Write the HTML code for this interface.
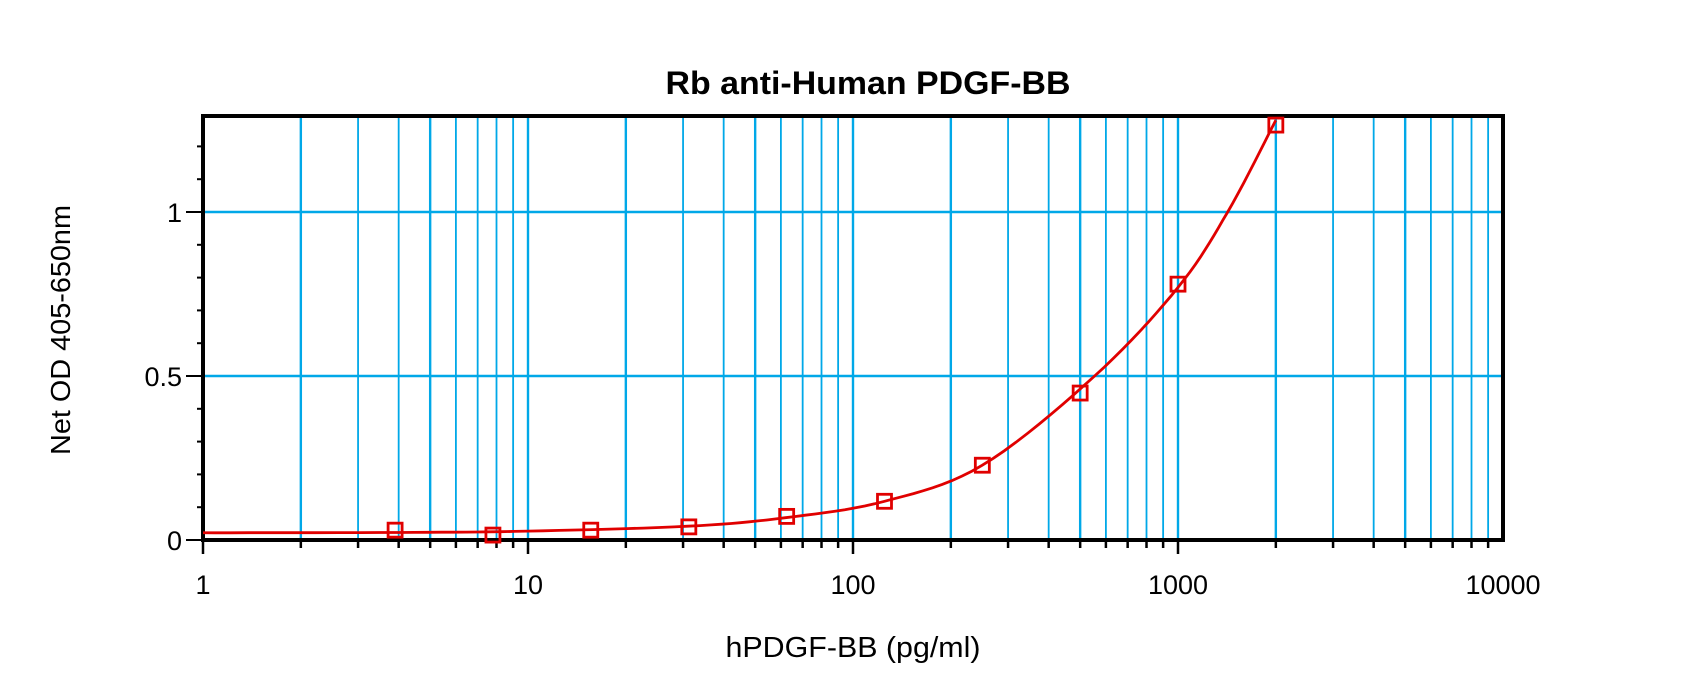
<!DOCTYPE html>
<html><head><meta charset="utf-8"><style>
html,body{margin:0;padding:0;background:#fff;width:1700px;height:686px;overflow:hidden}
</style></head><body>
<svg id="s" width="1700" height="686" xmlns="http://www.w3.org/2000/svg" font-family="Liberation Sans, Arial, sans-serif">
<g id="grid"></g>
<g id="frame"></g>
<text x="868" y="94" text-anchor="middle" font-size="32" font-weight="bold" textLength="405" lengthAdjust="spacingAndGlyphs">Rb anti-Human PDGF-BB</text>
<text x="853" y="657" text-anchor="middle" font-size="29" textLength="255" lengthAdjust="spacingAndGlyphs">hPDGF-BB (pg/ml)</text>
<text transform="translate(70,330) rotate(-90)" text-anchor="middle" font-size="28" textLength="250" lengthAdjust="spacingAndGlyphs">Net OD 405-650nm</text>
<g font-size="27" text-anchor="end">
<text x="182" y="550">0</text>
<text x="182" y="386">0.5</text>
<text x="182" y="222">1</text>
</g>
<g font-size="27" text-anchor="middle">
<text x="203" y="594">1</text>
<text x="528" y="594">10</text>
<text x="853" y="594">100</text>
<text x="1178" y="594">1000</text>
<text x="1503" y="594">10000</text>
</g>
<g id="data"></g>
</svg>
<script>
var NS="http://www.w3.org/2000/svg";
var L=203,R=1503,T=116,B=540,D=325;
function X(v){return L+Math.log10(v)*D}
function Y(v){return B-v*328}
function el(p,t,a){var e=document.createElementNS(NS,t);for(var k in a)e.setAttribute(k,a[k]);p.appendChild(e);return e}
var g=document.getElementById('grid'),f=document.getElementById('frame'),d=document.getElementById('data');
for(var e=0;e<4;e++)for(var m=1;m<=9;m++){var v=m*Math.pow(10,e);if(v<=1)continue;var x=X(v);
 el(g,'line',{x1:x,x2:x,y1:T,y2:B,stroke:'#00a8e8','stroke-width':(m==1||m==2||m==5)?2.4:1.8});
 el(f,'line',{x1:x,x2:x,y1:B,y2:B+(m==1?14:8),stroke:'#000','stroke-width':2.5});}
[0.5,1].forEach(function(v){el(g,'line',{x1:L,x2:R,y1:Y(v),y2:Y(v),stroke:'#00a8e8','stroke-width':2.4})});
el(f,'line',{x1:L,x2:L,y1:B,y2:B+14,stroke:'#000','stroke-width':2.5});
for(var i=0;i<=12;i++){var v=i*0.1;var y=Y(v);var maj=(i%5==0);
 el(f,'line',{x1:L-(maj?17:6),x2:L,y1:y,y2:y,stroke:'#000','stroke-width':2});}
el(f,'rect',{x:L,y:T,width:R-L,height:B-T,fill:'none',stroke:'#000','stroke-width':4});
var cp=[[1,0.022],[4,0.023],[10,0.027],[31,0.042],[62,0.068],[125,0.118],[250,0.228],[554,0.5],[1000,0.77],[1422,1.0],[2000,1.28]];
var P=cp.map(function(p){return [X(p[0]),Y(p[1])]});
var s='M'+P[0][0]+','+P[0][1];
for(var i=0;i<P.length-1;i++){var p0=P[Math.max(0,i-1)],p1=P[i],p2=P[i+1],p3=P[Math.min(P.length-1,i+2)];
 for(var t=0.1;t<=1.0001;t+=0.1){var t2=t*t,t3=t2*t;
  var xx=0.5*((2*p1[0])+(-p0[0]+p2[0])*t+(2*p0[0]-5*p1[0]+4*p2[0]-p3[0])*t2+(-p0[0]+3*p1[0]-3*p2[0]+p3[0])*t3);
  var yy=0.5*((2*p1[1])+(-p0[1]+p2[1])*t+(2*p0[1]-5*p1[1]+4*p2[1]-p3[1])*t2+(-p0[1]+3*p1[1]-3*p2[1]+p3[1])*t3);
  if(yy<T)yy=T; s+=' L'+xx.toFixed(1)+','+yy.toFixed(1);}}
el(d,'path',{d:s,fill:'none',stroke:'#e00000','stroke-width':2.8});
[[3.9,0.03],[7.8,0.015],[15.6,0.03],[31.25,0.04],[62.5,0.072],[125,0.118],[250,0.228],[500,0.448],[1000,0.78],[2000,1.265]].forEach(function(p){
 el(d,'rect',{x:X(p[0])-7,y:Y(p[1])-7,width:14,height:14,fill:'none',stroke:'#e00000','stroke-width':2.8});});
</script>
</body></html>
